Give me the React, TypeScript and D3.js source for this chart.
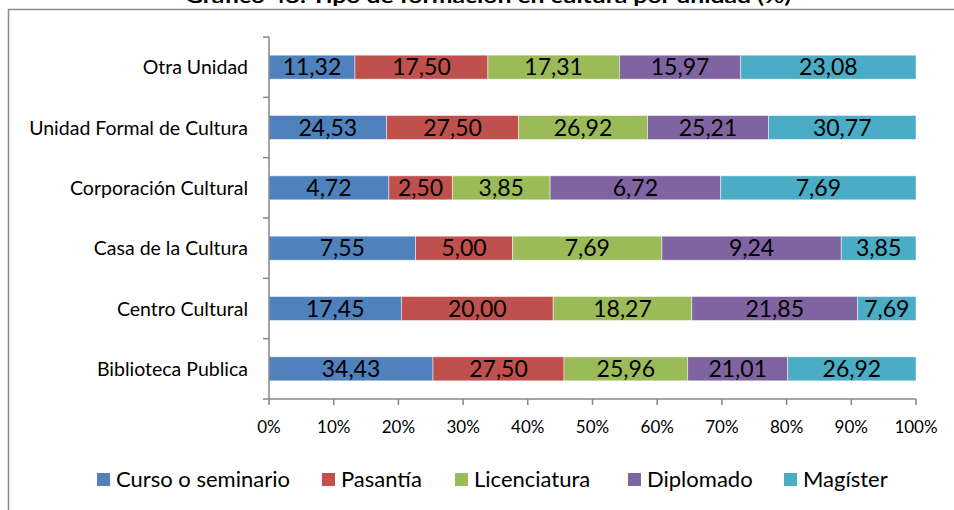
import { useEffect, useRef } from "react"
import * as d3 from "d3"

const units = [
  "Otra Unidad",
  "Unidad Formal de Cultura",
  "Corporación Cultural",
  "Casa de la Cultura",
  "Centro Cultural",
  "Biblioteca Publica",
]

const series = ["Curso o seminario", "Pasantía", "Licenciatura", "Diplomado", "Magíster"]
const colors = ["#4F81BD", "#C0504D", "#9BBB59", "#8064A2", "#4BACC6"]

// values per series, in the order of units
const curso = [11.32, 24.53, 4.72, 7.55, 17.45, 34.43]
const pasantia = [17.5, 27.5, 2.5, 5.0, 20.0, 27.5]
const licenciatura = [17.31, 26.92, 3.85, 7.69, 18.27, 25.96]
const diplomado = [15.97, 25.21, 6.72, 9.24, 21.85, 21.01]
const magister = [23.08, 30.77, 7.69, 3.85, 7.69, 26.92]

const xTicks = [0, 0.1, 0.2, 0.3, 0.4, 0.5, 0.6, 0.7, 0.8, 0.9, 1]

const title = "Gráfico 48: Tipo de formación en cultura por unidad (%)"

const font = "Lato, 'Open Sans', sans-serif"

export default function App() {
  const svgRef = useRef<SVGSVGElement>(null)

  useEffect(() => {
    if (!svgRef.current) return
    const svg = d3.select(svgRef.current)
    svg.selectAll("*").remove()

    const width = 954
    const height = 510
    svg.attr("width", width).attr("height", height)

    // outer frame (runs off the right and bottom edges)
    svg
      .append("rect")
      .attr("x", 8.5)
      .attr("y", 9.5)
      .attr("width", 1000)
      .attr("height", 600)
      .attr("fill", "white")
      .attr("stroke", "#8a8a8a")
      .attr("stroke-width", 1.5)

    // title, mostly cut off above the frame
    svg
      .append("text")
      .attr("x", 488)
      .attr("y", 3)
      .attr("text-anchor", "middle")
      .attr("textLength", 606)
      .attr("lengthAdjust", "spacingAndGlyphs")
      .style("font-family", font)
      .style("font-size", "19px")
      .style("font-weight", "bold")
      .style("fill", "#000")
      .text(title)

    const left = 269
    const right = 916
    const top = 37
    const bottom = 399

    const x = d3.scaleLinear().domain([0, 1]).range([left, right])
    const y = d3.scaleBand().domain(units).range([top, bottom]).paddingInner(0.6).paddingOuter(0.3)

    const rows = units.map((u, i) => {
      const vals = [curso[i], pasantia[i], licenciatura[i], diplomado[i], magister[i]]
      const total = d3.sum(vals)
      let acc = 0
      return vals.map((v, j) => {
        const s = { unit: u, series: j, value: v, x0: acc / total, x1: (acc + v) / total }
        acc += v
        return s
      })
    })

    const barH = 24
    const g = svg.append("g")
    rows.flat().forEach((d) => {
      const cy = (y(d.unit) as number) + y.bandwidth() / 2
      g.append("rect")
        .attr("x", x(d.x0))
        .attr("y", cy - barH / 2)
        .attr("width", x(d.x1) - x(d.x0))
        .attr("height", barH)
        .attr("fill", colors[d.series])
        .attr("stroke", "rgba(255,255,255,0.6)")
        .attr("stroke-width", 0.8)
      g.append("text")
        .attr("x", (x(d.x0) + x(d.x1)) / 2)
        .attr("y", cy)
        .attr("dy", "0.36em")
        .attr("text-anchor", "middle")
        .style("font-family", font)
        .style("font-size", "23px")
        .style("fill", "#000")
        .text(d.value.toFixed(2).replace(".", ","))
    })

    // y axis
    const axisColor = "#868686"
    svg
      .append("line")
      .attr("x1", left)
      .attr("x2", left)
      .attr("y1", top)
      .attr("y2", bottom)
      .attr("stroke", axisColor)
      .attr("stroke-width", 1.5)
    const step = (bottom - top) / units.length
    d3.range(units.length + 1).forEach((i) => {
      svg
        .append("line")
        .attr("x1", left - 6)
        .attr("x2", left)
        .attr("y1", top + i * step)
        .attr("y2", top + i * step)
        .attr("stroke", axisColor)
        .attr("stroke-width", 1.5)
    })
    units.forEach((u) => {
      svg
        .append("text")
        .attr("x", 248)
        .attr("y", (y(u) as number) + y.bandwidth() / 2)
        .attr("dy", "0.36em")
        .attr("text-anchor", "end")
        .style("font-family", font)
        .style("font-size", "19.5px")
        .style("fill", "#000")
        .text(u)
    })

    // x axis
    svg
      .append("line")
      .attr("x1", left)
      .attr("x2", right)
      .attr("y1", bottom)
      .attr("y2", bottom)
      .attr("stroke", axisColor)
      .attr("stroke-width", 1.5)
    xTicks.forEach((t) => {
      svg
        .append("line")
        .attr("x1", x(t))
        .attr("x2", x(t))
        .attr("y1", bottom)
        .attr("y2", bottom + 6)
        .attr("stroke", axisColor)
        .attr("stroke-width", 1.5)
      svg
        .append("text")
        .attr("x", x(t))
        .attr("y", 427)
        .attr("dy", "0.36em")
        .attr("text-anchor", "middle")
        .style("font-family", font)
        .style("font-size", "17px")
        .style("fill", "#000")
        .text(`${Math.round(t * 100)}%`)
    })

    // legend
    const legendX = [97, 322, 455, 628, 784]
    series.forEach((s, i) => {
      const lg = svg.append("g").attr("transform", `translate(${legendX[i]}, 479.5)`)
      lg.append("rect").attr("x", 0).attr("y", -6.5).attr("width", 13).attr("height", 13).attr("fill", colors[i])
      lg.append("text")
        .attr("x", 19)
        .attr("y", 0)
        .attr("dy", "0.36em")
        .style("font-family", font)
        .style("font-size", "22px")
        .style("fill", "#000")
        .text(s)
    })
  }, [])

  return (
    <svg
      ref={svgRef}
      style={{ position: "absolute", left: 0, top: 0, display: "block", background: "white" }}
    ></svg>
  )
}
